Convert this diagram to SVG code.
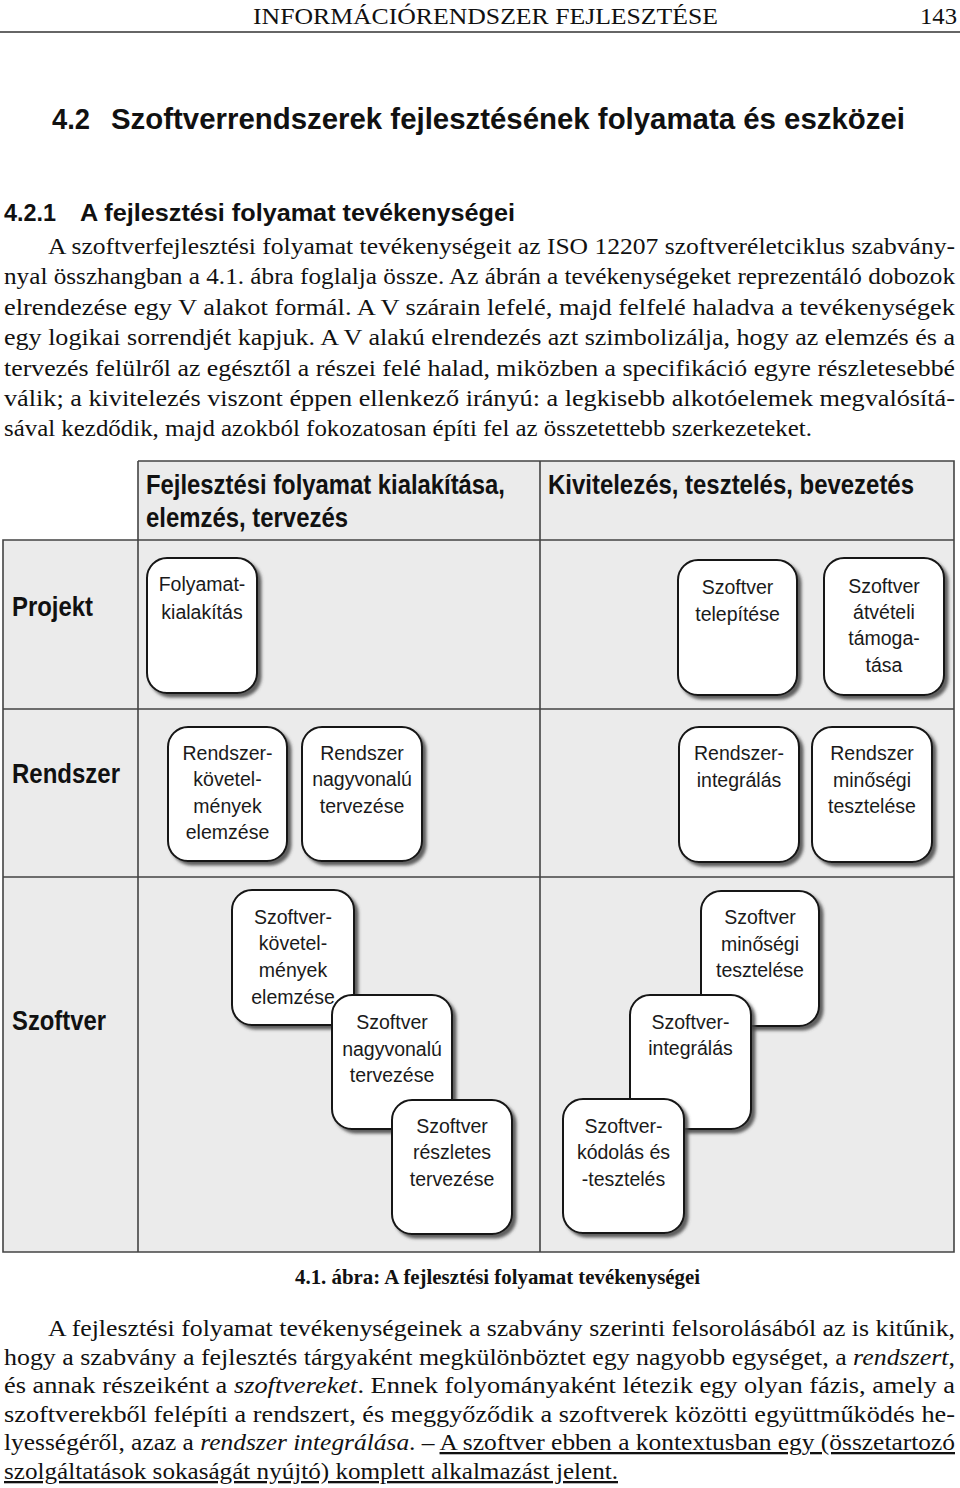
<svg xmlns="http://www.w3.org/2000/svg" width="960" height="1488" viewBox="0 0 960 1488">
<style>
.serif{font-family:"Liberation Serif","Times New Roman",serif;fill:#111}
.p{font-size:23px}
.hd{font-family:"Liberation Sans",Arial,sans-serif;font-weight:bold;fill:#111}
.cell{fill:#ebebeb;stroke:none}
.grid{stroke:#444;stroke-width:1.6;fill:none}
.box rect{fill:#fff;stroke:#151515;stroke-width:2;filter:url(#sh)}
.box text{font-family:"Liberation Sans",Arial,sans-serif;font-size:19.5px;fill:#1a1a1a;text-anchor:middle}
.lbl{font-family:"Liberation Sans",Arial,sans-serif;font-weight:bold;fill:#111}
.ul{text-decoration:underline}
</style>
<defs>
<filter id="sh" x="-10%" y="-10%" width="130%" height="130%">
<feDropShadow dx="3.5" dy="3.5" stdDeviation="1.4" flood-color="#444" flood-opacity="0.85"/>
</filter>
</defs>
<rect width="960" height="1488" fill="#fff"/>

<g id="page-header">
<text class="serif" x="253" y="24" font-size="23" textLength="465" lengthAdjust="spacingAndGlyphs">INFORMÁCIÓRENDSZER FEJLESZTÉSE</text>
<text class="serif" x="920" y="24" font-size="23" textLength="37" lengthAdjust="spacingAndGlyphs">143</text>
<line x1="0" y1="32" x2="960" y2="32" stroke="#333" stroke-width="1.5"/>
</g>

<g id="headings">
<text class="hd" x="52" y="129" font-size="29" textLength="38" lengthAdjust="spacingAndGlyphs">4.2</text>
<text class="hd" x="111" y="129" font-size="29" textLength="794" lengthAdjust="spacingAndGlyphs">Szoftverrendszerek fejlesztésének folyamata és eszközei</text>
<text class="hd" x="4" y="221" font-size="24" textLength="52" lengthAdjust="spacingAndGlyphs">4.2.1</text>
<text class="hd" x="80" y="221" font-size="24" textLength="435" lengthAdjust="spacingAndGlyphs">A fejlesztési folyamat tevékenységei</text>
</g>

<g id="paragraph-1" class="serif p">
<text x="48" y="254" textLength="907" lengthAdjust="spacingAndGlyphs">A szoftverfejlesztési folyamat tevékenységeit az ISO 12207 szoftveréletciklus szabvány-</text>
<text x="4" y="284" textLength="951" lengthAdjust="spacingAndGlyphs">nyal összhangban a 4.1. ábra foglalja össze. Az ábrán a tevékenységeket reprezentáló dobozok</text>
<text x="4" y="315" textLength="951" lengthAdjust="spacingAndGlyphs">elrendezése egy V alakot formál. A V szárain lefelé, majd felfelé haladva a tevékenységek</text>
<text x="4" y="345" textLength="951" lengthAdjust="spacingAndGlyphs">egy logikai sorrendjét kapjuk. A V alakú elrendezés azt szimbolizálja, hogy az elemzés és a</text>
<text x="4" y="376" textLength="951" lengthAdjust="spacingAndGlyphs">tervezés felülről az egésztől a részei felé halad, miközben a specifikáció egyre részletesebbé</text>
<text x="4" y="406" textLength="951" lengthAdjust="spacingAndGlyphs">válik; a kivitelezés viszont éppen ellenkező irányú: a legkisebb alkotóelemek megvalósítá-</text>
<text x="4" y="436" textLength="808" lengthAdjust="spacingAndGlyphs">sával kezdődik, majd azokból fokozatosan építi fel az összetettebb szerkezeteket.</text>
</g>

<g id="grid">
<rect class="cell" x="138" y="461" width="816" height="79"/>
<rect class="cell" x="3" y="540" width="951" height="712"/>
<path class="grid" d="M138 461H954V1252H3V540H954M138 461V1252M540 461V1252M3 709H954M3 877H954"/>
<text class="hd" x="146" y="494" font-size="27" textLength="359" lengthAdjust="spacingAndGlyphs">Fejlesztési folyamat kialakítása,</text>
<text class="hd" x="146" y="527" font-size="27" textLength="202" lengthAdjust="spacingAndGlyphs">elemzés, tervezés</text>
<text class="hd" x="548" y="494" font-size="27" textLength="366" lengthAdjust="spacingAndGlyphs">Kivitelezés, tesztelés, bevezetés</text>
<text class="lbl" x="12" y="616" font-size="28" textLength="81" lengthAdjust="spacingAndGlyphs">Projekt</text>
<text class="lbl" x="12" y="783" font-size="28" textLength="108" lengthAdjust="spacingAndGlyphs">Rendszer</text>
<text class="lbl" x="12" y="1030" font-size="28" textLength="94" lengthAdjust="spacingAndGlyphs">Szoftver</text>
</g>

<g id="connectors"></g>

<g id="n-folyamat" class="box">
<rect x="147" y="558" width="110" height="135" rx="20"/>
<text x="202" y="591">Folyamat-</text>
<text x="202" y="619">kialakítás</text>
</g>
<g id="n-telepites" class="box">
<rect x="678" y="560" width="119" height="135" rx="20"/>
<text x="737.5" y="594">Szoftver</text>
<text x="737.5" y="621">telepítése</text>
</g>
<g id="n-atveteli" class="box">
<rect x="824" y="558" width="120" height="137" rx="20"/>
<text x="884" y="593">Szoftver</text>
<text x="884" y="619">átvételi</text>
<text x="884" y="645">támoga-</text>
<text x="884" y="672">tása</text>
</g>

<g id="n-rendszer-kov" class="box">
<rect x="168" y="727" width="119" height="134" rx="20"/>
<text x="227.5" y="760">Rendszer-</text>
<text x="227.5" y="786">követel-</text>
<text x="227.5" y="813">mények</text>
<text x="227.5" y="839">elemzése</text>
</g>
<g id="n-rendszer-nagy" class="box">
<rect x="302" y="727" width="120" height="134" rx="20"/>
<text x="362" y="760">Rendszer</text>
<text x="362" y="786">nagyvonalú</text>
<text x="362" y="813">tervezése</text>
</g>
<g id="n-rendszer-int" class="box">
<rect x="679" y="727" width="120" height="135" rx="20"/>
<text x="739" y="760">Rendszer-</text>
<text x="739" y="787">integrálás</text>
</g>
<g id="n-rendszer-min" class="box">
<rect x="812" y="727" width="120" height="135" rx="20"/>
<text x="872" y="760">Rendszer</text>
<text x="872" y="787">minőségi</text>
<text x="872" y="813">tesztelése</text>
</g>

<g id="n-szoftver-kov" class="box">
<rect x="232" y="890" width="122" height="135" rx="20"/>
<text x="293" y="924">Szoftver-</text>
<text x="293" y="950">követel-</text>
<text x="293" y="977">mények</text>
<text x="293" y="1004">elemzése</text>
</g>
<g id="n-szoftver-nagy" class="box">
<rect x="332" y="995" width="120" height="134" rx="20"/>
<text x="392" y="1029">Szoftver</text>
<text x="392" y="1056">nagyvonalú</text>
<text x="392" y="1082">tervezése</text>
</g>
<g id="n-szoftver-resz" class="box">
<rect x="392" y="1100" width="120" height="134" rx="20"/>
<text x="452" y="1133">Szoftver</text>
<text x="452" y="1159">részletes</text>
<text x="452" y="1186">tervezése</text>
</g>
<g id="n-szoftver-min" class="box">
<rect x="701" y="891" width="118" height="135" rx="20"/>
<text x="760" y="924">Szoftver</text>
<text x="760" y="951">minőségi</text>
<text x="760" y="977">tesztelése</text>
</g>
<g id="n-szoftver-int" class="box">
<rect x="630" y="995" width="121" height="134" rx="20"/>
<text x="690.5" y="1029">Szoftver-</text>
<text x="690.5" y="1055">integrálás</text>
</g>
<g id="n-szoftver-kod" class="box">
<rect x="563" y="1099" width="121" height="134" rx="20"/>
<text x="623.5" y="1133">Szoftver-</text>
<text x="623.5" y="1159">kódolás és</text>
<text x="623.5" y="1186">-tesztelés</text>
</g>

<g id="caption">
<text class="serif" x="295" y="1284" font-size="20" font-weight="bold" textLength="405" lengthAdjust="spacingAndGlyphs">4.1. ábra: A fejlesztési folyamat tevékenységei</text>
</g>

<g id="paragraph-2" class="serif p">
<text x="48" y="1336" textLength="907" lengthAdjust="spacingAndGlyphs">A fejlesztési folyamat tevékenységeinek a szabvány szerinti felsorolásából az is kitűnik,</text>
<text x="4" y="1365" textLength="951" lengthAdjust="spacingAndGlyphs">hogy a szabvány a fejlesztés tárgyaként megkülönböztet egy nagyobb egységet, a <tspan font-style="italic">rendszert</tspan>,</text>
<text x="4" y="1393" textLength="951" lengthAdjust="spacingAndGlyphs">és annak részeiként a <tspan font-style="italic">szoftvereket</tspan>. Ennek folyományaként létezik egy olyan fázis, amely a</text>
<text x="4" y="1422" textLength="951" lengthAdjust="spacingAndGlyphs">szoftverekből felépíti a rendszert, és meggyőződik a szoftverek közötti együttműködés he-</text>
<text x="4" y="1450" textLength="951" lengthAdjust="spacingAndGlyphs">lyességéről, azaz a <tspan font-style="italic">rendszer integrálása</tspan>. – <tspan class="ul">A szoftver ebben a kontextusban egy (összetartozó</tspan></text>
<text x="4" y="1479" textLength="614" lengthAdjust="spacingAndGlyphs" class="ul">szolgáltatások sokaságát nyújtó) komplett alkalmazást jelent.</text>
</g>
</svg>
